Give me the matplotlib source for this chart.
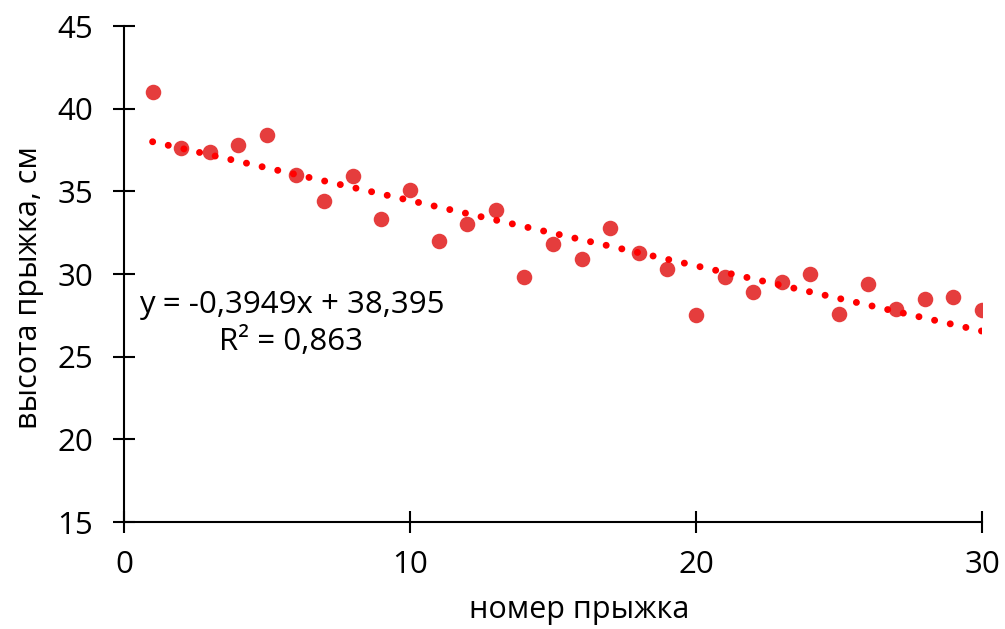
import numpy as np
import matplotlib
matplotlib.use("Agg")
import matplotlib.pyplot as plt

jump_no = list(range(1, 31))
height_cm = [41.0, 37.6, 37.4, 37.8, 38.4, 36.0, 34.4, 35.9, 33.3, 35.1,
             32.0, 33.0, 33.9, 29.8, 31.8, 30.9, 32.8, 31.3, 30.3, 27.5,
             29.8, 28.9, 29.5, 30.0, 27.6, 29.4, 27.9, 28.5, 28.6, 27.8]
eq_text = "y = -0,3949x + 38,395\nR² = 0,863"
x_ticks = [0, 10, 20, 30]
y_ticks = [15, 20, 25, 30, 35, 40, 45]

plt.rcParams['font.family'] = ['Open Sans', 'DejaVu Sans']

fig = plt.figure(figsize=(10.05, 6.29), dpi=100)
ax = fig.add_axes([124/1005, 1 - 522/629, (982-124)/1005, (522-26)/629])

x = np.array(jump_no, dtype=float)
y = np.array(height_cm)
k, b = np.polyfit(x, y, 1)
xt = np.array([x.min(), x.max()])
ax.scatter(x, y, s=125, color='#e43232', alpha=0.95, linewidths=0, zorder=2)
line, = ax.plot(xt, k*xt + b, color='#ff0000', linewidth=5.0,
                dashes=(0.01, 2.3), zorder=3)
line.set_dash_capstyle('round')

ax.set_xlim(0, 30)
ax.set_ylim(15, 45)
ax.set_xticks(x_ticks)
ax.set_yticks(y_ticks)
for s in ['top', 'right']:
    ax.spines[s].set_visible(False)
for s in ['left', 'bottom']:
    ax.spines[s].set_linewidth(1.5)
ax.tick_params(direction='inout', length=16, width=1.5, labelsize=22.5)
ax.tick_params(axis='y', pad=14)
ax.tick_params(axis='x', pad=12)

ax.text(5.85, 27.0, eq_text, ha='center', va='center', fontsize=22.5,
        linespacing=1.3)

ax.set_xlabel("номер прыжка", fontsize=22)
ax.xaxis.set_label_coords(0.531, -0.147)
ax.set_ylabel("высота прыжка, см", fontsize=22)
ax.yaxis.set_label_coords(-0.093, 0.472)

fig.savefig("out.png", dpi=100)
